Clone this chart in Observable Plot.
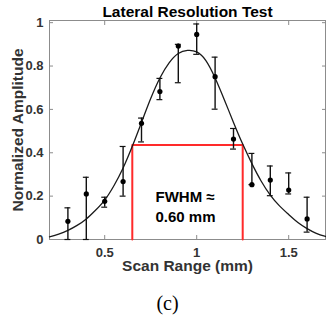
<!DOCTYPE html>
<html>
<head>
<meta charset="utf-8">
<script src="https://cdn.jsdelivr.net/npm/d3@7"></script>
<script src="https://cdn.jsdelivr.net/npm/@observablehq/plot@0.6"></script>
<style>
  html, body { margin: 0; padding: 0; background: #fff; }
  svg { font-family: "Liberation Sans", Arial, sans-serif; }
</style>
</head>
<body>
<div id="chart"></div>
<script>
// Measured points (scan position, mm) with mean and error bar range
const scanX = [0.3, 0.4, 0.5, 0.6, 0.7, 0.8, 0.9, 1.0, 1.1, 1.2, 1.3, 1.4, 1.5, 1.6];
const meanY = [0.084, 0.21, 0.176, 0.267, 0.536, 0.682, 0.892, 0.946, 0.751, 0.463, 0.253, 0.274, 0.228, 0.095];
const errLo = [0.0, 0.0, 0.149, 0.2, 0.45, 0.645, 0.723, 0.854, 0.601, 0.417, 0.253, 0.202, 0.21, 0.034];
const errHi = [0.146, 0.287, 0.195, 0.429, 0.56, 0.743, 0.9, 0.994, 0.841, 0.512, 0.397, 0.339, 0.307, 0.195];

// Fitted curve
const fitX = [0.20, 0.25, 0.30, 0.35, 0.40, 0.45, 0.50, 0.55, 0.60, 0.65, 0.70, 0.75, 0.80, 0.85, 0.90, 0.95,
              1.00, 1.05, 1.10, 1.15, 1.20, 1.25, 1.30, 1.35, 1.40, 1.45, 1.50, 1.55, 1.60, 1.65, 1.70];
const fitY = [0.012, 0.025, 0.042, 0.065, 0.095, 0.135, 0.182, 0.248, 0.33, 0.43, 0.54, 0.65, 0.745, 0.815, 0.858, 0.872,
              0.865, 0.825, 0.745, 0.645, 0.54, 0.44, 0.35, 0.27, 0.205, 0.155, 0.115, 0.078, 0.05, 0.028, 0.014];

// FWHM box
const fwhmBounds = [0.65, 1.25];
const halfMax = 0.436;
const fwhmLines = ["FWHM \u2248", "0.60 mm"];

const xTicks = [0.5, 1, 1.5];
const yTicks = [0, 0.2, 0.4, 0.6, 0.8, 1];

const titleText = "Lateral Resolution Test";
const xLabel = "Scan Range (mm)";
const yLabel = "Normalized Amplitude";
const captionText = "(c)";

const points = scanX.map((x, i) => ({x, y: meanY[i], lo: errLo[i], hi: errHi[i]}));
const fit = fitX.map((x, i) => ({x, y: fitY[i]}));
const fwhmPath = [
  {x: fwhmBounds[0], y: 0}, {x: fwhmBounds[0], y: halfMax},
  {x: fwhmBounds[1], y: halfMax}, {x: fwhmBounds[1], y: 0}
];
const capHalf = 0.016;
const axisColor = "#8c8c8c";
const labelColor = "#333333";

const chart = Plot.plot({
  width: 326,
  height: 320,
  marginLeft: 49,
  marginRight: 1,
  marginTop: 20,
  marginBottom: 81,
  style: {fontFamily: "Liberation Sans, Arial, sans-serif", background: "#fff"},
  x: {domain: [0.2, 1.7]},
  y: {domain: [0, 1.01]},
  marks: [
    Plot.frame({stroke: axisColor, strokeWidth: 1}),
    Plot.axisX({anchor: "bottom", ticks: xTicks, tickSize: -4, tickPadding: 12, tickFormat: d => String(d),
      stroke: axisColor, fill: labelColor, fontSize: 13, fontWeight: "bold", label: null}),
    Plot.axisX({anchor: "top", ticks: xTicks, tickSize: -4, tickFormat: () => "", stroke: axisColor, label: null}),
    Plot.axisY({anchor: "left", ticks: yTicks, tickSize: -4, tickPadding: 10, tickFormat: d => String(d),
      stroke: axisColor, fill: labelColor, fontSize: 13, fontWeight: "bold", label: null}),
    Plot.axisY({anchor: "right", ticks: yTicks, tickSize: -4, tickFormat: () => "", stroke: axisColor, label: null}),
    Plot.line(fwhmPath, {x: "x", y: "y", stroke: "#ff2a2a", strokeWidth: 2}),
    Plot.line(fit, {x: "x", y: "y", stroke: "#1a1a1a", strokeWidth: 1.3, curve: "natural"}),
    Plot.ruleX(points, {x: "x", y1: "lo", y2: "hi", stroke: "#111", strokeWidth: 1.4}),
    Plot.ruleY(points, {y: "lo", x1: d => d.x - capHalf, x2: d => d.x + capHalf, stroke: "#111", strokeWidth: 1.2}),
    Plot.ruleY(points, {y: "hi", x1: d => d.x - capHalf, x2: d => d.x + capHalf, stroke: "#111", strokeWidth: 1.2}),
    Plot.dot(points, {x: "x", y: "y", r: 2.6, fill: "#000", stroke: null}),
    Plot.text([fwhmLines[0]], {x: 0.776, y: 0.175, text: d => d, textAnchor: "start", lineAnchor: "bottom",
      fontSize: 15, fontWeight: "bold", fill: "#000"}),
    Plot.text([fwhmLines[1]], {x: 0.776, y: 0.083, text: d => d, textAnchor: "start", lineAnchor: "bottom",
      fontSize: 15, fontWeight: "bold", fill: "#000"}),
    Plot.text([titleText], {frameAnchor: "top", dy: -4, lineAnchor: "bottom", text: d => d,
      fontSize: 15.5, fontWeight: "bold", fill: "#000"}),
    Plot.text([xLabel], {frameAnchor: "bottom", dy: 31, lineAnchor: "bottom", text: d => d,
      fontSize: 15.5, fontWeight: "bold", fill: labelColor}),
    Plot.text([yLabel], {frameAnchor: "left", dx: -31, rotate: -90, textAnchor: "middle", lineAnchor: "middle", text: d => d,
      fontSize: 15.5, fontWeight: "bold", fill: labelColor}),
    Plot.text([captionText], {frameAnchor: "bottom", dx: -20, dy: 70, lineAnchor: "bottom", text: d => d,
      fontSize: 20, fontFamily: "Liberation Serif, Times New Roman, serif", fill: "#000"})
  ]
});
document.getElementById("chart").appendChild(chart);
</script>
</body>
</html>
